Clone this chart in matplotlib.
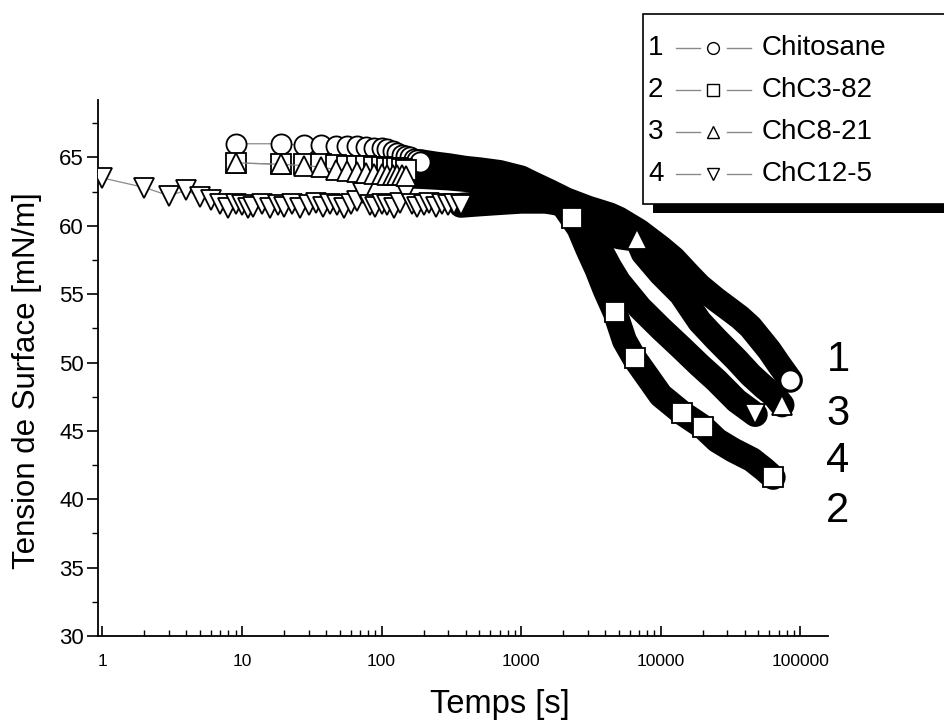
import numpy as np
import matplotlib
matplotlib.use("Agg")
import matplotlib.pyplot as plt
from matplotlib.lines import Line2D
from matplotlib.patches import Rectangle
from matplotlib.ticker import LogLocator, FixedLocator, MultipleLocator, NullFormatter

plt.rcParams['font.family'] = ['Liberation Sans', 'DejaVu Sans']

# ---------------- data ----------------
series_names = ["Chitosane", "ChC3-82", "ChC8-21", "ChC12-5"]
series_numbers = ["1", "2", "3", "4"]

chit_t = [9, 19, 28, 37, 47, 57, 67, 78, 89, 100, 110, 120, 130, 140, 150, 160, 170, 180, 190,
          200, 250, 300, 400, 500, 700, 1000, 1200, 1600, 2100, 3000, 4300, 5000, 7000, 10000,
          12400, 16300, 19000, 25000, 30000, 37000, 44000, 60000, 70000, 85000]
chit_y = [66.0, 66.0, 65.9, 65.9, 65.85, 65.8, 65.8, 65.75, 65.7, 65.7, 65.6, 65.5, 65.35, 65.2, 65.1,
          65.0, 64.9, 64.8, 64.7, 64.65, 64.5, 64.4, 64.2, 64.1, 63.9, 63.5, 63.1, 62.5, 61.9, 61.3,
          60.8, 60.5, 59.6, 58.4, 57.6, 56.3, 55.6, 54.6, 54.0, 53.3, 52.6, 50.9, 49.9, 48.7]

c382_t = [9, 19, 28, 37, 47, 57, 67, 78, 89, 100, 110, 120, 130, 140, 150, 200, 300, 500, 700,
          1000, 1500, 2000, 2300, 2600, 3000, 3500, 4000, 4700, 5500, 6500, 8000, 10000, 14300,
          20000, 25400, 33000, 45000, 55000, 64000]
c382_y = [64.6, 64.5, 64.5, 64.5, 64.45, 64.4, 64.4, 64.35, 64.3, 64.3, 64.25, 64.2, 64.2, 64.15,
          64.1, 64.0, 63.8, 63.4, 63.0, 62.5, 62.0, 61.5, 60.6, 59.8, 58.3, 56.8, 55.3, 53.7, 51.6,
          50.3, 49.0, 47.6, 46.3, 45.3, 44.3, 43.6, 42.9, 42.2, 41.6]

c821_t = [9, 19, 28, 37, 47, 57, 67, 78, 89, 100, 110, 120, 130, 140, 150, 200, 300, 500, 700,
          1000, 1500, 2000, 3000, 4300, 5000, 6800, 7500, 10000, 14000, 19000, 25000, 35000,
          44000, 55000, 65000, 74000]
c821_y = [64.6, 64.5, 64.4, 64.3, 64.1, 64.0, 63.9, 63.85, 63.8, 63.8, 63.75, 63.7, 63.7, 63.7,
          63.65, 63.6, 63.5, 63.3, 63.1, 62.7, 62.2, 61.8, 61.0, 59.7, 59.2, 59.0, 58.0, 56.5, 55.0,
          53.0, 51.7, 50.2, 49.1, 48.2, 47.6, 46.9]

c125_t = [1, 2, 3, 4, 5, 6, 7, 8, 9, 10, 11, 12, 14, 16, 18, 20, 23, 26, 30, 34, 38, 43, 48, 54,
          60, 67, 74, 82, 90, 100, 110, 122, 135, 150, 165, 180, 200, 220, 245, 270, 300, 330, 370,
          500, 700, 1000, 1500, 2000, 2500, 3000, 3500, 4300, 5000, 7100, 10000, 14000, 19000,
          25000, 35000, 47600]
c125_y = [63.5, 62.8, 62.2, 62.6, 62.1, 61.9, 61.6, 61.3, 61.6, 61.5, 61.3, 61.4, 61.6, 61.3, 61.5,
          61.4, 61.6, 61.3, 61.5, 61.7, 61.4, 61.6, 61.5, 61.3, 61.6, 61.8, 62.4, 61.5, 61.4, 61.6,
          61.5, 61.3, 61.7, 62.5, 61.6, 61.4, 61.5, 61.7, 61.4, 61.6, 61.5, 61.6, 61.5, 61.6, 61.7,
          61.8, 61.8, 61.6, 60.8, 59.8, 58.7, 57.0, 55.9, 54.0, 52.5, 51.1, 49.8, 48.7, 47.2, 46.2]

x_ticks = [1, 10, 100, 1000, 10000, 100000]
x_ticklabels = ["1", "10", "100", "1000", "10000", "100000"]
y_ticks = [30, 35, 40, 45, 50, 55, 60, 65]

# ---------------- styling ----------------
W, H = 944, 724
fig = plt.figure(figsize=(W / 100, H / 100), dpi=100)
ax = fig.add_axes([98 / W, 1 - 636 / H, (828 - 98) / W, (636 - 100) / H])

def fx(x):
    return x / W

def fy(y):
    return 1 - y / H

MS = 14.5
BAND = 18
series = [
    # t, y, marker, split time (open markers before), extra open markers
    (c125_t, c125_y, "v", 370, []),
    (chit_t, chit_y, "o", 190, []),
    (c382_t, c382_y, "s", 150, [2300, 4700, 6500, 14300, 20000]),
    (c821_t, c821_y, "^", 150, [6800]),
]

for t, y, mk, split, extra in series:
    t = np.asarray(t, float)
    y = np.asarray(y, float)
    late = t >= split
    ax.plot(t[late], y[late], color="black", lw=BAND, solid_capstyle="round",
            solid_joinstyle="round", zorder=2)

for t, y, mk, split, extra in series:
    t = np.asarray(t, float)
    y = np.asarray(y, float)
    early = t <= split
    ax.plot(t[early], y[early], color="#8a8a8a", lw=0.9, marker=mk, ms=MS,
            mfc="white", mec="black", mew=1.3, zorder=3)
    sel = np.isin(t, extra) | (t == t[-1])
    ax.plot(t[sel], y[sel], ls="none", marker=mk, ms=MS, mfc="white", mec="black",
            mew=1.3, zorder=4)

ax.set_xscale("log")
ax.set_xlim(0.93, 158000)
ax.set_ylim(30, 69.2)

ax.xaxis.set_major_locator(FixedLocator(x_ticks))
ax.set_xticklabels(x_ticklabels)
ax.xaxis.set_minor_locator(LogLocator(base=10, subs=np.arange(2, 10)))
ax.xaxis.set_minor_formatter(NullFormatter())
ax.yaxis.set_major_locator(FixedLocator(y_ticks))
ax.yaxis.set_minor_locator(MultipleLocator(2.5))

for s in ["top", "right"]:
    ax.spines[s].set_visible(False)
for s in ["left", "bottom"]:
    ax.spines[s].set_linewidth(1.3)

ax.tick_params(axis="x", which="major", direction="in", length=7, width=1.2, pad=13,
               labelsize=12.5)
ax.tick_params(axis="x", which="minor", direction="in", length=4, width=1.0)
ax.tick_params(axis="y", which="major", direction="out", length=8, width=1.2, pad=2,
               labelsize=16)
ax.tick_params(axis="y", which="minor", direction="out", length=4.5, width=1.0)

fig.text(fx(27), fy(381), "Tension de Surface [mN/m]", rotation=90, ha="center",
         va="center", fontsize=22.5)
fig.text(fx(500), fy(705), "Temps [s]", ha="center", va="center", fontsize=23.5)

# curve numbers at the right
for lab, yy in zip(["1", "3", "4", "2"], [360, 414, 461, 511]):
    fig.text(fx(838), fy(yy), lab, ha="center", va="center", fontsize=30)

# legend box with shadow
fig.add_artist(Rectangle((fx(653), fy(213)), fx(320), 9 / H, transform=fig.transFigure,
                         facecolor="black", edgecolor="none", zorder=5))
fig.add_artist(Rectangle((fx(643), fy(204)), fx(330), (204 - 14) / H,
                         transform=fig.transFigure, facecolor="white", edgecolor="black",
                         lw=1.2, zorder=6))
leg_markers = ["o", "s", "^", "v"]
for i, (num, name, mk) in enumerate(zip(series_numbers, series_names, leg_markers)):
    yy = 48 + i * 42
    fig.text(fx(648), fy(yy), num, ha="left", va="center", fontsize=20, zorder=7)
    fig.add_artist(Line2D([fx(676), fx(700)], [fy(yy), fy(yy)], transform=fig.transFigure,
                          color="#8a8a8a", lw=1.0, zorder=7))
    fig.add_artist(Line2D([fx(727), fx(751)], [fy(yy), fy(yy)], transform=fig.transFigure,
                          color="#8a8a8a", lw=1.0, zorder=7))
    fig.add_artist(Line2D([fx(713)], [fy(yy)], transform=fig.transFigure, ls="none",
                          marker=mk, ms=8.5, mfc="white", mec="black", mew=1.0, zorder=7))
    fig.text(fx(762), fy(yy), name, ha="left", va="center", fontsize=20, zorder=7)

fig.savefig("out.png", dpi=100)
